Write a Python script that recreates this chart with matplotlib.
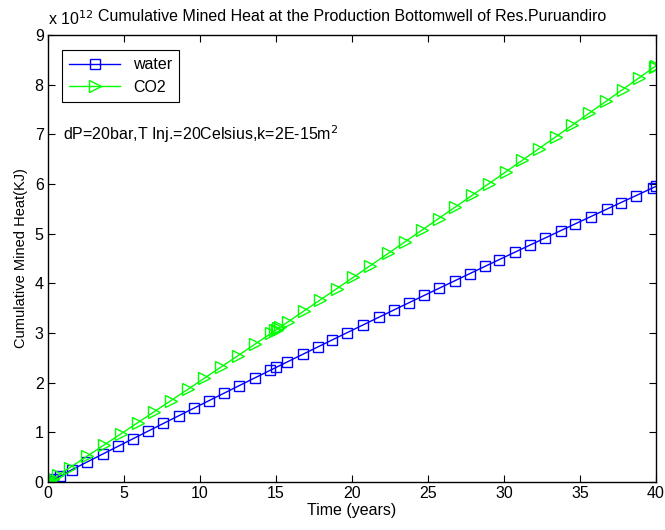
import matplotlib.pyplot as plt

plt.rcParams['font.family'] = ['Liberation Sans', 'DejaVu Sans']

# time (years) and cumulative mined heat (x 1e12 KJ)
t_water = [0, 0.03, 0.08, 0.18, 0.35, 0.79, 1.6, 2.6, 3.6, 4.6, 5.6, 6.6, 7.6, 8.6,
           9.6, 10.6, 11.6, 12.6, 13.6, 14.6, 15.0, 15.75, 16.75, 17.75, 18.7, 19.7,
           20.75, 21.75, 22.75, 23.75, 24.75, 25.75, 26.75, 27.75, 28.75, 29.7, 30.7,
           31.7, 32.7, 33.75, 34.7, 35.7, 36.75, 37.7, 38.7, 39.8, 40.0]
q_water = [0, 0.005, 0.0125, 0.028, 0.055, 0.115, 0.25, 0.406, 0.561, 0.716, 0.871,
           1.025, 1.179, 1.332, 1.485, 1.638, 1.790, 1.942, 2.094, 2.245, 2.305, 2.418,
           2.568, 2.718, 2.860, 3.009, 3.165, 3.314, 3.462, 3.609, 3.756, 3.903, 4.049,
           4.195, 4.341, 4.479, 4.624, 4.768, 4.912, 5.063, 5.199, 5.342, 5.491, 5.627,
           5.768, 5.924, 5.952]

t_co2 = [0, 0.02, 0.06, 0.12, 0.22, 0.35, 0.68, 1.45, 2.6, 3.7, 4.8, 5.9, 7.0, 8.1,
         9.2, 10.3, 11.4, 12.5, 13.6, 14.7, 14.95, 15.05, 15.15, 15.3, 15.8, 16.85,
         17.9, 19.0, 20.1, 21.2, 22.4, 23.5, 24.6, 25.7, 26.8, 27.9, 29.0, 30.1, 31.2,
         32.3, 33.4, 34.5, 35.6, 36.7, 37.8, 38.9, 39.9, 40.0]
q_co2 = [0, 0.004, 0.012, 0.024, 0.044, 0.070, 0.137, 0.291, 0.523, 0.746, 0.968,
         1.192, 1.416, 1.640, 1.865, 2.091, 2.317, 2.543, 2.770, 2.998, 3.050, 3.070,
         3.091, 3.122, 3.226, 3.444, 3.663, 3.893, 4.123, 4.354, 4.606, 4.838, 5.070,
         5.303, 5.537, 5.771, 6.005, 6.240, 6.476, 6.712, 6.949, 7.186, 7.424, 7.662,
         7.901, 8.140, 8.358, 8.380]

fs = 11.5

fig = plt.figure(figsize=(6.65, 5.3), dpi=100)
ax = fig.add_axes([0.072, 0.0906, 0.9145, 0.8434])

ax.plot(t_water, q_water, color=(0, 0, 1), marker='s', markersize=7.8,
        markerfacecolor='none', markeredgewidth=1.0, linewidth=1.0, label='water')
ax.plot(t_co2, q_co2, color=(0, 1, 0), marker='>', markersize=8.5,
        markerfacecolor='none', markeredgewidth=1.0, linewidth=1.0, label='CO2')

ax.set_xlim(0, 40)
ax.set_ylim(0, 9)
ax.set_xticks(range(0, 41, 5))
ax.set_yticks(range(0, 10))
ax.tick_params(direction='in', top=True, right=True, length=5, labelsize=fs, pad=3)
for s in ax.spines.values():
    s.set_linewidth(1.0)

ax.set_xlabel('Time (years)', fontsize=fs, labelpad=1)
ax.set_ylabel('Cumulative Mined Heat(KJ)', fontsize=10.5, labelpad=5)
ax.set_title('Cumulative Mined Heat at the Production Bottomwell of Res.Puruandiro',
             fontsize=fs, pad=10)
ax.text(0.0, 1.015, 'x 10$^{12}$', transform=ax.transAxes, fontsize=fs,
        ha='left', va='bottom')

ax.text(1.0, 7.0, 'dP=20bar,T Inj.=20Celsius,k=2E-15m$^2$', fontsize=fs,
        ha='left', va='center')

leg = ax.legend(loc='upper left', bbox_to_anchor=(0.023, 0.966), fancybox=False,
                edgecolor='black', framealpha=1, handlelength=3.2, fontsize=fs,
                borderaxespad=0, borderpad=0.45, labelspacing=0.45)
leg.get_frame().set_linewidth(0.8)

fig.savefig('out.png', dpi=100)
